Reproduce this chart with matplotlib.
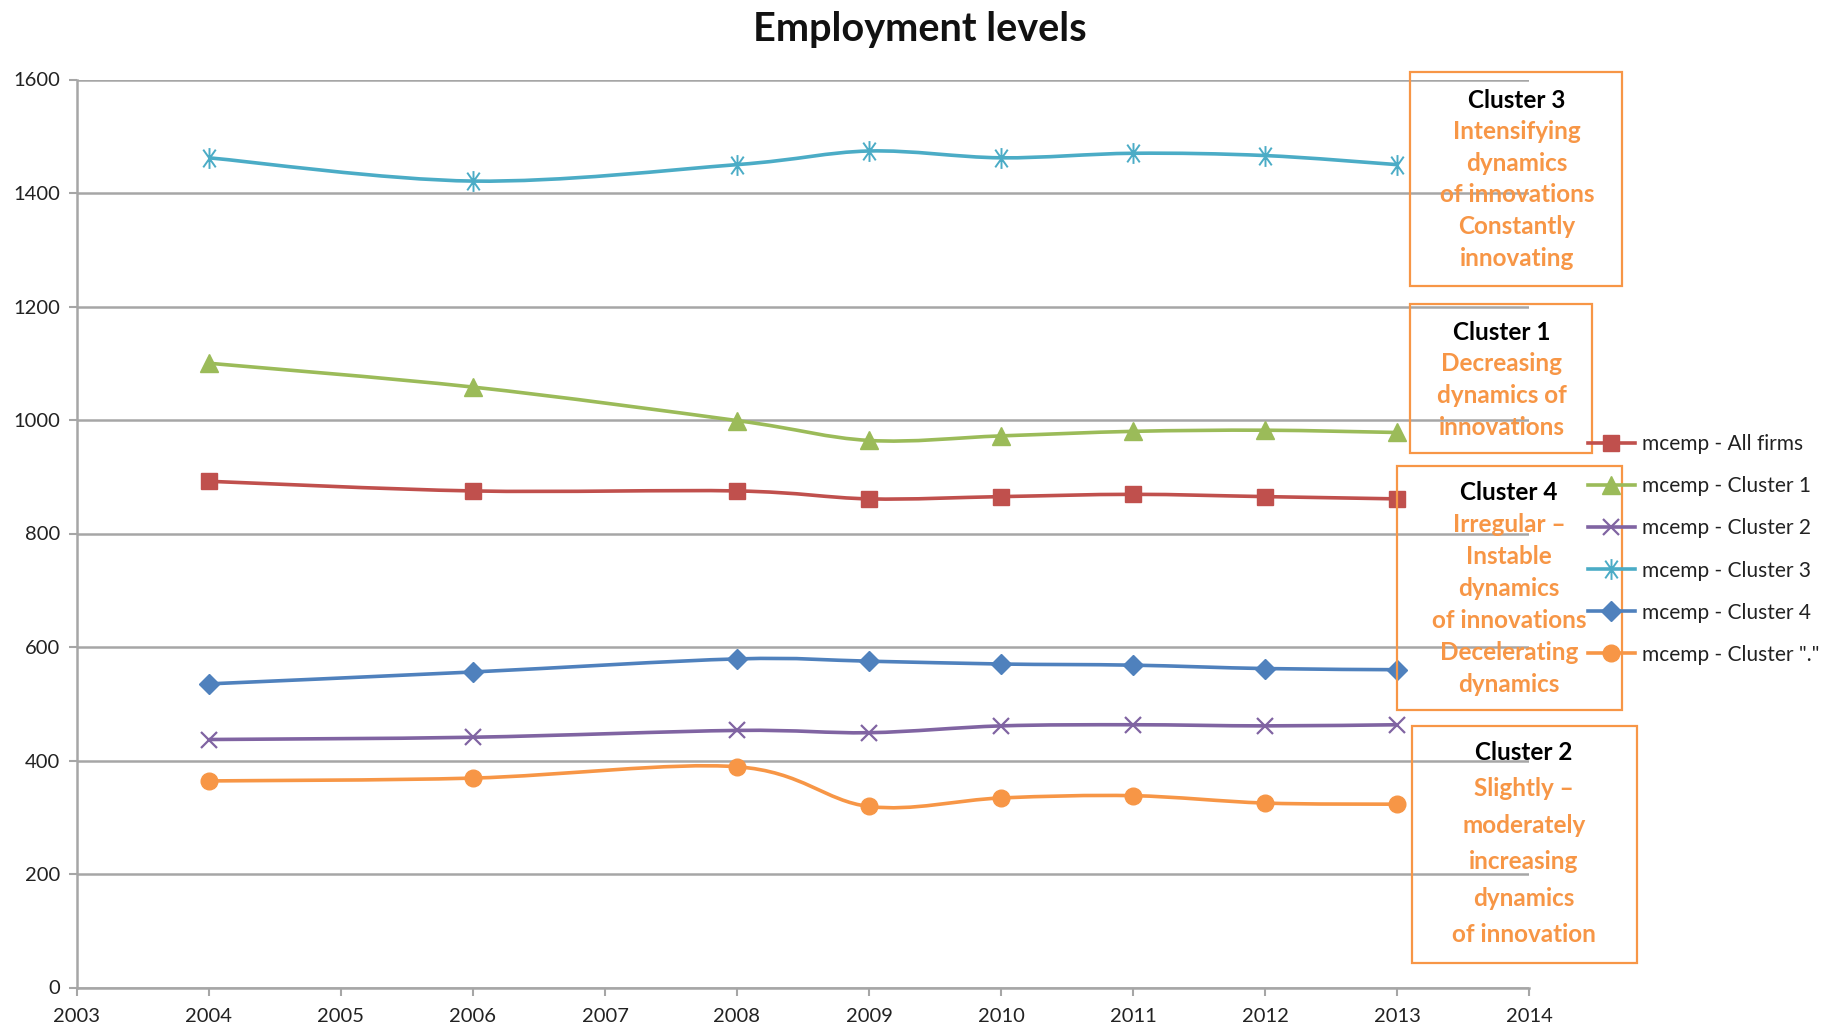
import numpy as np
import matplotlib.pyplot as plt
from matplotlib.path import Path
from matplotlib.patches import PathPatch, Rectangle
from matplotlib.lines import Line2D

plt.rcParams['font.family'] = ['Lato', 'DejaVu Sans']

years = [2004, 2006, 2008, 2009, 2010, 2011, 2012, 2013]

all_firms = [892, 875, 875, 861, 865, 869, 865, 861]
cluster_1 = [1100, 1058, 999, 964, 972, 980, 982, 978]
cluster_2 = [437, 441, 453, 449, 461, 463, 461, 463]
cluster_3 = [1462, 1421, 1450, 1474, 1462, 1470, 1466, 1450]
cluster_4 = [535, 556, 579, 575, 570, 568, 562, 560]
cluster_dot = [364, 369, 389, 319, 334, 338, 325, 323]

labels = ["mcemp - All firms", "mcemp - Cluster 1", "mcemp - Cluster 2",
          "mcemp - Cluster 3", "mcemp - Cluster 4", 'mcemp - Cluster "."']

# asterisk marker: vertical bar plus a narrow X
star = Path([(0, -1), (0, 1), (-0.6, -0.85), (0.6, 0.85), (-0.6, 0.85), (0.6, -0.85)],
            [Path.MOVETO, Path.LINETO] * 3)

series = [
    (all_firms, "#C0504D", "s", 11, 1.0),
    (cluster_1, "#9BBB59", "^", 13, 1.0),
    (cluster_2, "#8064A2", "x", 12, 1.6),
    (cluster_3, "#4BACC6", star, 15, 1.4),
    (cluster_4, "#4F81BD", "D", 10, 1.0),
    (cluster_dot, "#F79646", "o", 12, 1.0),
]

ORANGE = "#F79646"
GRID = "#A6A6A6"


def smooth_path(x, y):
    # Catmull-Rom style cubic Bezier through the points (like Excel's smoothed lines)
    p = np.column_stack([x, y]).astype(float)
    verts = [p[0]]
    codes = [Path.MOVETO]
    n = len(p)
    for i in range(n - 1):
        p0 = p[i - 1] if i > 0 else p[i]
        p3 = p[i + 2] if i + 2 < n else p[i + 1]
        c1 = p[i] + (p[i + 1] - p0) / 6
        c2 = p[i + 1] - (p3 - p[i]) / 6
        verts += [c1, c2, p[i + 1]]
        codes += [Path.CURVE4] * 3
    return Path(verts, codes)


W, H = 1833, 1027
fig = plt.figure(figsize=(W / 100, H / 100), dpi=100)
ax = fig.add_axes([77 / W, 1 - 987.5 / H, (1529 - 77) / W, (987.5 - 79.5) / H])

handles = []
for vals, color, marker, ms, mew in series:
    ax.add_patch(PathPatch(smooth_path(years, vals), facecolor="none",
                           edgecolor=color, lw=2.6, zorder=3))
    ax.plot(years, vals, ls="none", marker=marker, ms=ms, color=color,
            mec=color, mew=mew, zorder=4, clip_on=False)
    handles.append(Line2D([], [], color=color, lw=2.6, marker=marker,
                          ms=ms, mec=color, mew=mew))

ax.set_xlim(2003, 2014)
ax.set_ylim(0, 1600)
ax.set_xticks(range(2003, 2015))
ax.set_yticks(range(0, 1601, 200))
ax.yaxis.grid(True, color=GRID, lw=1.8)
ax.set_axisbelow(True)
for s in ["top", "right"]:
    ax.spines[s].set_visible(False)
for s in ["left", "bottom"]:
    ax.spines[s].set_color(GRID)
    ax.spines[s].set_linewidth(1.8)
ax.tick_params(axis="both", direction="out", length=6, width=1.5, color=GRID,
               labelsize=14.5, labelcolor="#222222")
ax.tick_params(axis="x", pad=9)
ax.tick_params(axis="y", pad=6)

fig.text(920 / W, 1 - 29 / H, "Employment levels", ha="center", va="center",
         fontsize=28.5, fontweight="bold", color="#111111")

leg = fig.legend(handles, labels, loc="center left",
                 bbox_to_anchor=(1588 / W, 1 - 549.5 / H), frameon=False,
                 fontsize=15, handlelength=2.25, handletextpad=0.35,
                 labelspacing=1.06, borderpad=0, borderaxespad=0)
for t in leg.get_texts():
    t.set_color("#222222")

# cluster notes: box (left, top, right, bottom) in pixels, heading, body, first line y, step
notes = [
    ((1410, 72, 1622, 286), "Cluster 3",
     ["Intensifying", "dynamics", "of innovations", "Constantly", "innovating"], 1517, 100, 31.6),
    ((1410, 304, 1592, 453), "Cluster 1",
     ["Decreasing", "dynamics of", "innovations"], 1502, 332, 31.7),
    ((1397, 466, 1622, 710), "Cluster 4",
     ["Irregular \u2013", "Instable", "dynamics", "of innovations", "Decelerating", "dynamics"],
     1509, 493, 32.0),
    ((1412, 726, 1637, 963), "Cluster 2",
     ["Slightly \u2013", "moderately", "increasing", "dynamics", "of innovation"], 1524, 752, 36.6),
]
for (l, t, r, b), head, body, cx, y0, step in notes:
    fig.patches.append(Rectangle((l / W, 1 - b / H), (r - l) / W, (b - t) / H,
                                 transform=fig.transFigure, fill=False,
                                 edgecolor=ORANGE, lw=1.6, zorder=5))
    fig.text(cx / W, 1 - y0 / H, head, ha="center", va="center",
             fontsize=17.5, fontweight="bold", color="black", zorder=6)
    for k, line in enumerate(body, start=1):
        fig.text(cx / W, 1 - (y0 + k * step) / H, line, ha="center", va="center",
                 fontsize=17.5, fontweight="bold", color=ORANGE, zorder=6)

fig.savefig("out.png", dpi=100, facecolor="white")
